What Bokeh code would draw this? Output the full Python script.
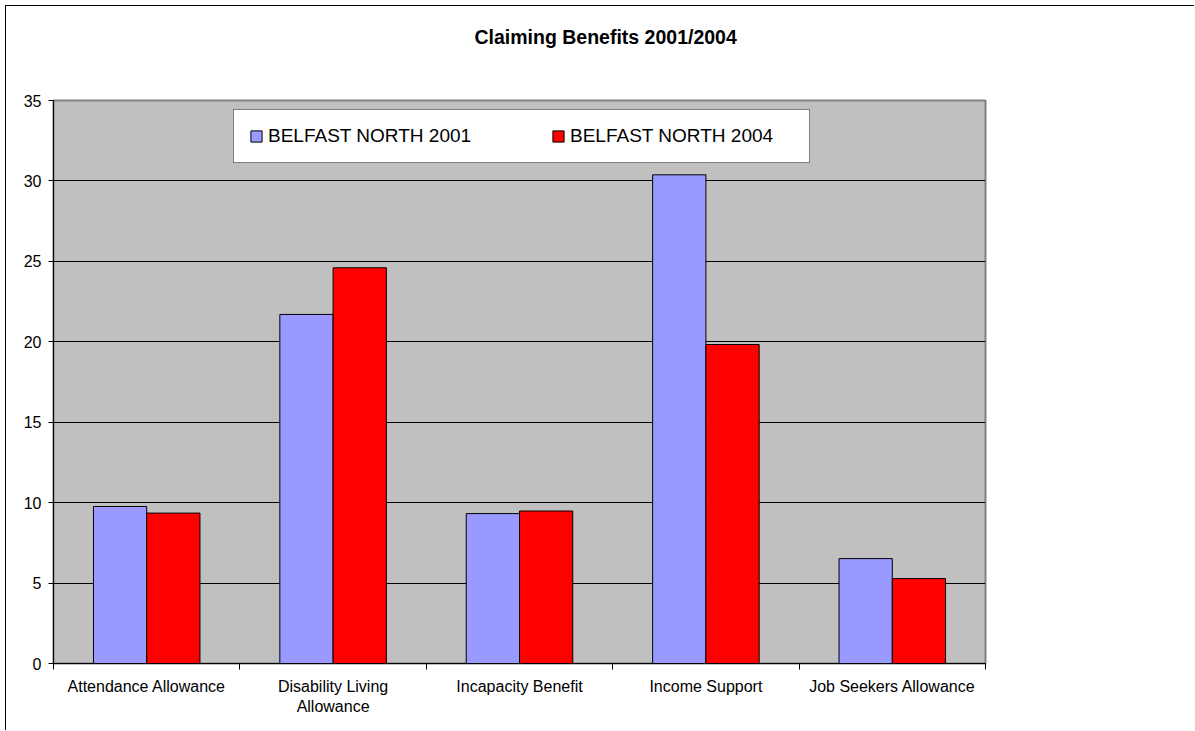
import numpy as np
from bokeh.plotting import figure
from bokeh.models import (Range1d, FixedTicker, CustomJSTickFormatter, Legend, LegendItem,
                          Title, ColumnDataSource)
from bokeh.transform import dodge
from bokeh.embed import file_html
from bokeh.resources import INLINE

title = "Claiming Benefits 2001/2004"
categories = ["Attendance Allowance", "Disability Living\nAllowance", "Incapacity Benefit",
              "Income Support", "Job Seekers Allowance"]
series_names = ["BELFAST NORTH 2001", "BELFAST NORTH 2004"]
values_2001 = [9.76, 21.70, 9.32, 30.38, 6.52]
values_2004 = [9.35, 24.60, 9.48, 19.83, 5.28]
y_ticks = [0, 5, 10, 15, 20, 25, 30, 35]

FONT = "Liberation Sans"
BAR_W = 1 / 3.5

src = ColumnDataSource(dict(
    x=np.arange(len(categories)) + 0.5,
    v1=values_2001,
    v2=values_2004,
))

p = figure(width=1189, height=725, output_backend="svg", toolbar_location=None,
           x_range=Range1d(0, len(categories)), y_range=Range1d(0, 35),
           min_border_left=47, min_border_top=94, min_border_right=210, min_border_bottom=68)
p.styles = {"border-top": "1px solid black", "border-left": "1px solid black",
            "margin-left": "5px", "margin-top": "5px"}

p.title = Title(text=title, align="left", offset=421, standoff=0,
                text_font=FONT, text_font_size="19.5px", text_font_style="bold",
                text_color="black")
# empty spacer between the title and the plot frame
p.add_layout(Title(text=" ", standoff=29, text_font=FONT, text_font_size="19.5px"), "above")

p.background_fill_color = "#C0C0C0"
p.border_fill_color = "white"
p.outline_line_color = "#808080"
p.outline_line_width = 2

r1 = p.vbar(x=dodge("x", -BAR_W / 2), top="v1", width=BAR_W, source=src,
            fill_color="#9999FF", line_color="black", line_width=1)
r2 = p.vbar(x=dodge("x", BAR_W / 2), top="v2", width=BAR_W, source=src,
            fill_color="#FF0000", line_color="black", line_width=1)

# y axis
p.yaxis.ticker = FixedTicker(ticks=y_ticks)
p.yaxis.minor_tick_line_color = None
p.yaxis.major_tick_in = 0
p.yaxis.major_tick_out = 5
p.yaxis.major_label_standoff = 7
p.yaxis.axis_line_color = "black"
p.yaxis.major_tick_line_color = "black"
p.yaxis.major_label_text_font = FONT
p.yaxis.major_label_text_font_size = "16px"
p.yaxis.major_label_text_color = "black"

# x axis
p.xaxis.ticker = FixedTicker(ticks=list(np.arange(len(categories)) + 0.5),
                             minor_ticks=list(range(len(categories) + 1)))
p.xaxis.formatter = CustomJSTickFormatter(args=dict(labels=categories),
                                          code="return labels[Math.floor(tick)];")
p.xaxis.major_tick_line_color = None
p.xaxis.major_tick_in = 0
p.xaxis.major_tick_out = 5
p.xaxis.minor_tick_in = 0
p.xaxis.minor_tick_out = 6
p.xaxis.minor_tick_line_color = "black"
p.xaxis.major_label_standoff = 8
p.xaxis.axis_line_color = "black"
p.xaxis.major_label_text_font = FONT
p.xaxis.major_label_text_font_size = "16px"
p.xaxis.major_label_text_color = "black"

p.xgrid.grid_line_color = None
p.ygrid.ticker = FixedTicker(ticks=y_ticks)
p.ygrid.grid_line_color = "black"
p.ygrid.grid_line_width = 1

legend = Legend(items=[LegendItem(label=series_names[0], renderers=[r1]),
                       LegendItem(label=series_names[1], renderers=[r2])],
                orientation="horizontal", location=(180, 500),
                padding=15, spacing=59, label_width=224,
                glyph_width=14, glyph_height=14, label_standoff=5,
                label_text_font=FONT, label_text_font_size="19px",
                label_text_color="black",
                border_line_color="black", border_line_width=1,
                background_fill_color="white", background_fill_alpha=1.0)
p.add_layout(legend, "center")

open("out.html", "w").write(file_html(p, INLINE))
